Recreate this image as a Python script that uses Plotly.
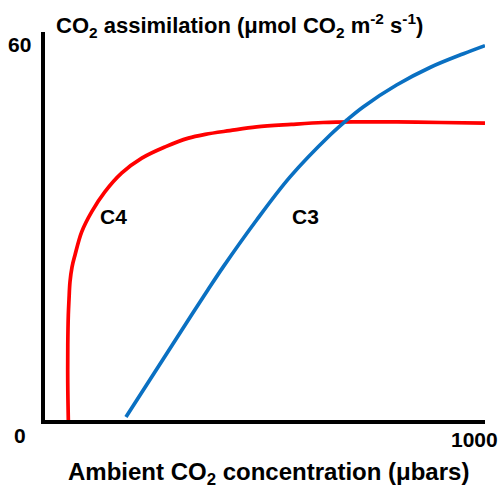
import plotly.graph_objects as go

# C4 curve (red)
c4_x = [53, 51.7, 51.8, 53, 54.5, 56.8, 61.5, 68.2, 83.4, 106, 136, 174, 220, 273, 326, 364,
        420, 481, 560, 632, 700, 800, 900, 1000]
c4_y = [0, 6, 12, 16.8, 19.2, 22.1, 24.5, 26.4, 30.1, 33.3, 36.5, 39.5, 41.9, 43.7, 45.1, 45.7,
        46.3, 46.9, 47.3, 47.6, 47.7, 47.7, 47.6, 47.5]

# C3 curve (blue)
c3_x = [184, 333, 370, 405, 481, 557, 648, 686, 723, 799, 875, 951, 1000]
c3_y = [0.5, 16.8, 20.8, 24.5, 32, 38.9, 45.6, 48, 50.1, 53.6, 56.4, 58.6, 59.9]

curve_labels = ["C4", "C3"]
label_x = [156, 591]
label_y = [32.5, 32.6]

FONT = "Liberation Sans, Arial, Helvetica, sans-serif"

fig = go.Figure()
fig.add_trace(go.Scatter(x=c4_x, y=c4_y, mode="lines",
                         line=dict(color="#ff0000", width=3.7, shape="spline", smoothing=1.0),
                         hoverinfo="skip"))
fig.add_trace(go.Scatter(x=c3_x, y=c3_y, mode="lines",
                         line=dict(color="#0a70c2", width=3.7, shape="spline", smoothing=1.0),
                         hoverinfo="skip"))

annotations = []
for t, lx, ly in zip(curve_labels, label_x, label_y):
    annotations.append(dict(x=lx, y=ly, xref="x", yref="y", text="<b>%s</b>" % t,
                            showarrow=False, font=dict(family=FONT, size=21, color="black")))

def pa(text, x, y, size, xanchor="center"):
    annotations.append(dict(x=x, y=y, xref="paper", yref="paper", text=text,
                            showarrow=False, xanchor=xanchor, yanchor="middle",
                            font=dict(family=FONT, size=size, color="black")))

pa("<b>CO<sub>2</sub> assimilation (μmol CO<sub>2</sub> m<sup>-2</sup> s<sup>-1</sup>)</b>", 0.021, 1.018, 22, "left")
pa("<b>60</b>", -0.057, 0.9665, 21)
pa("<b>0</b>", -0.057, -0.041, 21)
pa("<b>1000</b>", 0.977, -0.0515, 21)
pa("<b>Ambient CO<sub>2</sub> concentration (μbars)</b>", 0.507, -0.137, 24)

fig.update_layout(
    width=501, height=490,
    margin=dict(l=45, r=16, t=32, b=70),
    paper_bgcolor="white", plot_bgcolor="white",
    showlegend=False,
    annotations=annotations,
    xaxis=dict(range=[0, 1000], showgrid=False, zeroline=False, showticklabels=False,
               ticks="", showline=True, linecolor="black", linewidth=3.5, fixedrange=True),
    yaxis=dict(range=[0, 62.08], showgrid=False, zeroline=False, showticklabels=False,
               ticks="", showline=True, linecolor="black", linewidth=3.5, fixedrange=True),
)

fig.write_html("out.html", config={"displayModeBar": False},
               post_script="document.body.style.margin='0';document.body.style.overflow='hidden';")
